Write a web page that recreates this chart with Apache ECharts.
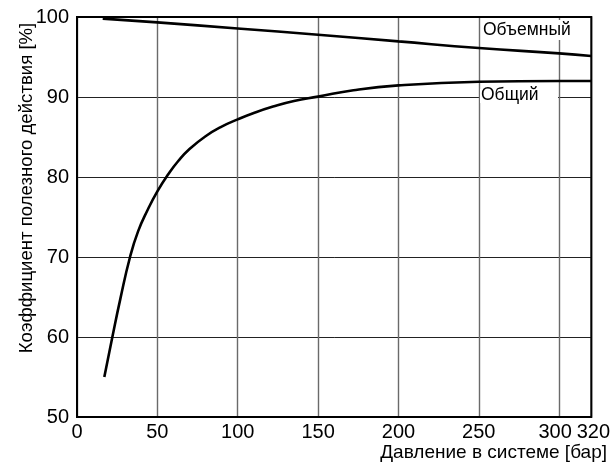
<!DOCTYPE html>
<html>
<head>
<meta charset="utf-8">
<script src="https://cdn.jsdelivr.net/npm/echarts@6/dist/echarts.min.js"></script>
<style>html,body{margin:0;padding:0;background:#fff}#c{width:613px;height:466px}</style>
</head>
<body>
<div id="c"></div>
<script>
// Data
const volumetricX = [16, 50, 100, 150, 200, 250, 300, 320];
const volumetricY = [99.8, 99.33, 98.57, 97.78, 96.95, 96.12, 95.45, 95.12];
const overallX = [17, 22, 27, 33, 38, 44, 50, 57, 63, 70, 80, 90, 100, 110, 122, 135, 150, 172, 200, 250, 300, 320];
const overallY = [55, 60, 64.8, 70, 73.2, 75.9, 78.2, 80.4, 82.0, 83.5, 85.1, 86.3, 87.2, 88.0, 88.8, 89.5, 90.05, 90.85, 91.45, 91.9, 92.0, 92.0];
const seriesNames = ['Объемный', 'Общий'];
const xTitle = 'Давление в системе [бар]';
const yTitle = 'Коэффициент полезного действия [%]';
const xRange = [0, 320, 50];
const yRange = [50, 100, 10];

const zip = (xs, ys) => xs.map((x, i) => [x, ys[i]]);
const font = 'Liberation Sans, Arial, sans-serif';

const chart = echarts.init(document.getElementById('c'), null, {renderer: 'canvas'});
chart.setOption({
  animation: false,
  backgroundColor: '#fff',
  grid: {left: 77, right: 20, top: 17, bottom: 49, show: true, borderColor: '#000', borderWidth: 2, backgroundColor: 'transparent', z: 3},
  xAxis: {
    type: 'value', min: xRange[0], max: xRange[1], interval: xRange[2],
    axisLine: {show: false}, axisTick: {show: false},
    axisLabel: {
      color: '#000', fontSize: 20, fontFamily: font, margin: 5,
      formatter: v => v === 300 ? '{l|' + v + '}' : (v === 320 ? '{r|' + v + '}' : '' + v),
      rich: {l: {fontSize: 20, fontFamily: font, color: '#000', padding: [0, 8, 0, 0]}, r: {fontSize: 20, fontFamily: font, color: '#000', padding: [0, 0, 0, 4]}}
    },
    splitLine: {show: true, lineStyle: {color: '#6a6a6a', width: 1.4}}
  },
  yAxis: {
    type: 'value', min: yRange[0], max: yRange[1], interval: yRange[2],
    axisLine: {show: false}, axisTick: {show: false},
    axisLabel: {color: '#000', fontSize: 20, fontFamily: font, margin: 8},
    splitLine: {show: true, lineStyle: {color: '#222', width: 1}}
  },
  series: [
    {name: seriesNames[0], type: 'line', data: zip(volumetricX, volumetricY), smooth: 0.5, showSymbol: false, lineStyle: {color: '#000', width: 2.6}, z: 4},
    {name: seriesNames[1], type: 'line', data: zip(overallX, overallY), smooth: 0.5, showSymbol: false, lineStyle: {color: '#000', width: 2.6}, z: 4}
  ],
  graphic: [
    {type: 'text', left: 481, top: 20, z: 10, style: {text: seriesNames[0], fontSize: 17.5, fontFamily: font, fill: '#000', backgroundColor: '#fff', padding: [1, 2, 1, 2]}},
    {type: 'rect', shape: {x: 480, y: 89, width: 78, height: 14}, style: {fill: '#fff'}, z: 9},
    {type: 'text', left: 481, top: 86, z: 10, style: {text: seriesNames[1], fontSize: 17.5, fontFamily: font, fill: '#000'}},
    {type: 'text', right: 6, top: 443, z: 10, style: {text: xTitle, fontSize: 19, fontFamily: font, fill: '#000'}},
    {type: 'text', x: 27, y: 188, rotation: Math.PI / 2, z: 10, style: {text: yTitle, fontSize: 18.6, fontFamily: font, fill: '#000', align: 'center', verticalAlign: 'middle'}}
  ]
});
</script>
</body>
</html>
